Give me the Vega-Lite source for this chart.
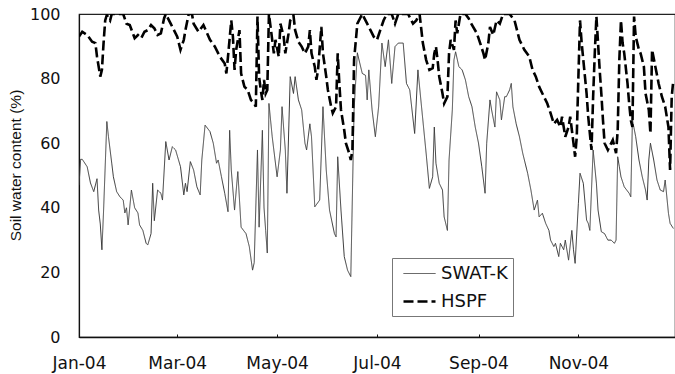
{
  "$schema": "https://vega.github.io/schema/vega-lite/v6.json",
  "autosize": {"type": "none"},
  "padding": {"left": 79, "top": 14, "right": 0, "bottom": 37},
  "width": 596,
  "height": 323,
  "background": "white",
  "config": {
    "font": "DejaVu Sans",
    "view": {"stroke": "#222", "strokeWidth": 1.2}
  },
  "datasets": {
    "soil": [
      {"date":"2004-01-01","model":"SWAT-K","v":47},
      {"date":"2004-01-02","model":"SWAT-K","v":55},
      {"date":"2004-01-03","model":"SWAT-K","v":55},
      {"date":"2004-01-06","model":"SWAT-K","v":52.7},
      {"date":"2004-01-08","model":"SWAT-K","v":47.7},
      {"date":"2004-01-10","model":"SWAT-K","v":45},
      {"date":"2004-01-12","model":"SWAT-K","v":49},
      {"date":"2004-01-13","model":"SWAT-K","v":39.3},
      {"date":"2004-01-14","model":"SWAT-K","v":35},
      {"date":"2004-01-15","model":"SWAT-K","v":27},
      {"date":"2004-01-16","model":"SWAT-K","v":39},
      {"date":"2004-01-18","model":"SWAT-K","v":66.7},
      {"date":"2004-01-19","model":"SWAT-K","v":62},
      {"date":"2004-01-21","model":"SWAT-K","v":53.8},
      {"date":"2004-01-22","model":"SWAT-K","v":49.6},
      {"date":"2004-01-24","model":"SWAT-K","v":45},
      {"date":"2004-01-26","model":"SWAT-K","v":43.4},
      {"date":"2004-01-28","model":"SWAT-K","v":42.4},
      {"date":"2004-01-29","model":"SWAT-K","v":38.4},
      {"date":"2004-01-30","model":"SWAT-K","v":40},
      {"date":"2004-01-31","model":"SWAT-K","v":34.7},
      {"date":"2004-02-02","model":"SWAT-K","v":45.5},
      {"date":"2004-02-04","model":"SWAT-K","v":40},
      {"date":"2004-02-06","model":"SWAT-K","v":38.4},
      {"date":"2004-02-07","model":"SWAT-K","v":34.7},
      {"date":"2004-02-09","model":"SWAT-K","v":33},
      {"date":"2004-02-11","model":"SWAT-K","v":29},
      {"date":"2004-02-12","model":"SWAT-K","v":28.5},
      {"date":"2004-02-14","model":"SWAT-K","v":32},
      {"date":"2004-02-15","model":"SWAT-K","v":47.6},
      {"date":"2004-02-16","model":"SWAT-K","v":36},
      {"date":"2004-02-18","model":"SWAT-K","v":45.5},
      {"date":"2004-02-20","model":"SWAT-K","v":44.5},
      {"date":"2004-02-21","model":"SWAT-K","v":42.4},
      {"date":"2004-02-23","model":"SWAT-K","v":60.5},
      {"date":"2004-02-25","model":"SWAT-K","v":54.8},
      {"date":"2004-02-27","model":"SWAT-K","v":58.9},
      {"date":"2004-02-29","model":"SWAT-K","v":57.9},
      {"date":"2004-03-03","model":"SWAT-K","v":52.7},
      {"date":"2004-03-05","model":"SWAT-K","v":44},
      {"date":"2004-03-06","model":"SWAT-K","v":47.6},
      {"date":"2004-03-07","model":"SWAT-K","v":45},
      {"date":"2004-03-09","model":"SWAT-K","v":54.3},
      {"date":"2004-03-11","model":"SWAT-K","v":51.7},
      {"date":"2004-03-13","model":"SWAT-K","v":46.5},
      {"date":"2004-03-15","model":"SWAT-K","v":44},
      {"date":"2004-03-16","model":"SWAT-K","v":54.8},
      {"date":"2004-03-18","model":"SWAT-K","v":65.6},
      {"date":"2004-03-21","model":"SWAT-K","v":63.6},
      {"date":"2004-03-23","model":"SWAT-K","v":60},
      {"date":"2004-03-25","model":"SWAT-K","v":53.8},
      {"date":"2004-03-26","model":"SWAT-K","v":54.8},
      {"date":"2004-03-28","model":"SWAT-K","v":49.6},
      {"date":"2004-03-30","model":"SWAT-K","v":44.5},
      {"date":"2004-04-01","model":"SWAT-K","v":38.8},
      {"date":"2004-04-02","model":"SWAT-K","v":64},
      {"date":"2004-04-03","model":"SWAT-K","v":51.7},
      {"date":"2004-04-05","model":"SWAT-K","v":39.3},
      {"date":"2004-04-07","model":"SWAT-K","v":51.2},
      {"date":"2004-04-09","model":"SWAT-K","v":34},
      {"date":"2004-04-12","model":"SWAT-K","v":32},
      {"date":"2004-04-14","model":"SWAT-K","v":28},
      {"date":"2004-04-16","model":"SWAT-K","v":20.7},
      {"date":"2004-04-17","model":"SWAT-K","v":23},
      {"date":"2004-04-19","model":"SWAT-K","v":57.9},
      {"date":"2004-04-20","model":"SWAT-K","v":34},
      {"date":"2004-04-22","model":"SWAT-K","v":64},
      {"date":"2004-04-23","model":"SWAT-K","v":40},
      {"date":"2004-04-24","model":"SWAT-K","v":33},
      {"date":"2004-04-25","model":"SWAT-K","v":26},
      {"date":"2004-04-26","model":"SWAT-K","v":72.3},
      {"date":"2004-04-28","model":"SWAT-K","v":62},
      {"date":"2004-05-01","model":"SWAT-K","v":49.6},
      {"date":"2004-05-03","model":"SWAT-K","v":57.9},
      {"date":"2004-05-04","model":"SWAT-K","v":71.3},
      {"date":"2004-05-06","model":"SWAT-K","v":57.9},
      {"date":"2004-05-07","model":"SWAT-K","v":44.5},
      {"date":"2004-05-09","model":"SWAT-K","v":80.6},
      {"date":"2004-05-11","model":"SWAT-K","v":75.4},
      {"date":"2004-05-12","model":"SWAT-K","v":80.6},
      {"date":"2004-05-14","model":"SWAT-K","v":73.4},
      {"date":"2004-05-16","model":"SWAT-K","v":70.3},
      {"date":"2004-05-18","model":"SWAT-K","v":60},
      {"date":"2004-05-19","model":"SWAT-K","v":57.9},
      {"date":"2004-05-21","model":"SWAT-K","v":66},
      {"date":"2004-05-22","model":"SWAT-K","v":62},
      {"date":"2004-05-24","model":"SWAT-K","v":40.3},
      {"date":"2004-05-27","model":"SWAT-K","v":42.4},
      {"date":"2004-05-29","model":"SWAT-K","v":71.3},
      {"date":"2004-05-31","model":"SWAT-K","v":51.7},
      {"date":"2004-06-02","model":"SWAT-K","v":39.3},
      {"date":"2004-06-05","model":"SWAT-K","v":32},
      {"date":"2004-06-06","model":"SWAT-K","v":31},
      {"date":"2004-06-07","model":"SWAT-K","v":55.8},
      {"date":"2004-06-09","model":"SWAT-K","v":39.3},
      {"date":"2004-06-11","model":"SWAT-K","v":24.9},
      {"date":"2004-06-13","model":"SWAT-K","v":20.7},
      {"date":"2004-06-15","model":"SWAT-K","v":18.7},
      {"date":"2004-06-17","model":"SWAT-K","v":70.3},
      {"date":"2004-06-19","model":"SWAT-K","v":88},
      {"date":"2004-06-20","model":"SWAT-K","v":85.8},
      {"date":"2004-06-22","model":"SWAT-K","v":81.6},
      {"date":"2004-06-24","model":"SWAT-K","v":81},
      {"date":"2004-06-25","model":"SWAT-K","v":73.4},
      {"date":"2004-06-26","model":"SWAT-K","v":82.7},
      {"date":"2004-06-28","model":"SWAT-K","v":70.3},
      {"date":"2004-06-30","model":"SWAT-K","v":62},
      {"date":"2004-07-02","model":"SWAT-K","v":71.3},
      {"date":"2004-07-04","model":"SWAT-K","v":91},
      {"date":"2004-07-06","model":"SWAT-K","v":83.7},
      {"date":"2004-07-08","model":"SWAT-K","v":92},
      {"date":"2004-07-10","model":"SWAT-K","v":78.5},
      {"date":"2004-07-12","model":"SWAT-K","v":89.9},
      {"date":"2004-07-14","model":"SWAT-K","v":91},
      {"date":"2004-07-17","model":"SWAT-K","v":91},
      {"date":"2004-07-19","model":"SWAT-K","v":78.5},
      {"date":"2004-07-21","model":"SWAT-K","v":76.5},
      {"date":"2004-07-24","model":"SWAT-K","v":63},
      {"date":"2004-07-26","model":"SWAT-K","v":82.7},
      {"date":"2004-07-28","model":"SWAT-K","v":72.3},
      {"date":"2004-07-31","model":"SWAT-K","v":56.9},
      {"date":"2004-08-02","model":"SWAT-K","v":46},
      {"date":"2004-08-04","model":"SWAT-K","v":49.6},
      {"date":"2004-08-05","model":"SWAT-K","v":65},
      {"date":"2004-08-06","model":"SWAT-K","v":53.8},
      {"date":"2004-08-08","model":"SWAT-K","v":47.6},
      {"date":"2004-08-10","model":"SWAT-K","v":45.5},
      {"date":"2004-08-11","model":"SWAT-K","v":37.2},
      {"date":"2004-08-13","model":"SWAT-K","v":33},
      {"date":"2004-08-14","model":"SWAT-K","v":54.8},
      {"date":"2004-08-16","model":"SWAT-K","v":70.3},
      {"date":"2004-08-17","model":"SWAT-K","v":85.8},
      {"date":"2004-08-18","model":"SWAT-K","v":88.3},
      {"date":"2004-08-20","model":"SWAT-K","v":83.7},
      {"date":"2004-08-22","model":"SWAT-K","v":82.7},
      {"date":"2004-08-24","model":"SWAT-K","v":79.6},
      {"date":"2004-08-26","model":"SWAT-K","v":74.4},
      {"date":"2004-08-28","model":"SWAT-K","v":71.3},
      {"date":"2004-08-30","model":"SWAT-K","v":65},
      {"date":"2004-09-01","model":"SWAT-K","v":60},
      {"date":"2004-09-03","model":"SWAT-K","v":52.7},
      {"date":"2004-09-05","model":"SWAT-K","v":44.5},
      {"date":"2004-09-06","model":"SWAT-K","v":60},
      {"date":"2004-09-08","model":"SWAT-K","v":73.4},
      {"date":"2004-09-09","model":"SWAT-K","v":70.3},
      {"date":"2004-09-11","model":"SWAT-K","v":65},
      {"date":"2004-09-12","model":"SWAT-K","v":75.9},
      {"date":"2004-09-14","model":"SWAT-K","v":73.4},
      {"date":"2004-09-15","model":"SWAT-K","v":67.2},
      {"date":"2004-09-17","model":"SWAT-K","v":74.4},
      {"date":"2004-09-18","model":"SWAT-K","v":74.4},
      {"date":"2004-09-20","model":"SWAT-K","v":76.5},
      {"date":"2004-09-21","model":"SWAT-K","v":78.5},
      {"date":"2004-09-22","model":"SWAT-K","v":71.3},
      {"date":"2004-09-24","model":"SWAT-K","v":66},
      {"date":"2004-09-26","model":"SWAT-K","v":62},
      {"date":"2004-09-28","model":"SWAT-K","v":56.9},
      {"date":"2004-10-01","model":"SWAT-K","v":50.7},
      {"date":"2004-10-03","model":"SWAT-K","v":45.5},
      {"date":"2004-10-05","model":"SWAT-K","v":39.3},
      {"date":"2004-10-07","model":"SWAT-K","v":42.4},
      {"date":"2004-10-08","model":"SWAT-K","v":37.2},
      {"date":"2004-10-10","model":"SWAT-K","v":38.3},
      {"date":"2004-10-12","model":"SWAT-K","v":35.2},
      {"date":"2004-10-14","model":"SWAT-K","v":33},
      {"date":"2004-10-15","model":"SWAT-K","v":30},
      {"date":"2004-10-17","model":"SWAT-K","v":28},
      {"date":"2004-10-18","model":"SWAT-K","v":29},
      {"date":"2004-10-20","model":"SWAT-K","v":24.9},
      {"date":"2004-10-21","model":"SWAT-K","v":29},
      {"date":"2004-10-23","model":"SWAT-K","v":27},
      {"date":"2004-10-24","model":"SWAT-K","v":30},
      {"date":"2004-10-26","model":"SWAT-K","v":23.8},
      {"date":"2004-10-28","model":"SWAT-K","v":33},
      {"date":"2004-10-29","model":"SWAT-K","v":27},
      {"date":"2004-10-30","model":"SWAT-K","v":22.8},
      {"date":"2004-11-01","model":"SWAT-K","v":41.4},
      {"date":"2004-11-02","model":"SWAT-K","v":50.7},
      {"date":"2004-11-04","model":"SWAT-K","v":47.6},
      {"date":"2004-11-06","model":"SWAT-K","v":36.2},
      {"date":"2004-11-07","model":"SWAT-K","v":35.2},
      {"date":"2004-11-08","model":"SWAT-K","v":33},
      {"date":"2004-11-10","model":"SWAT-K","v":57.9},
      {"date":"2004-11-12","model":"SWAT-K","v":47.6},
      {"date":"2004-11-13","model":"SWAT-K","v":39.3},
      {"date":"2004-11-15","model":"SWAT-K","v":32.6},
      {"date":"2004-11-17","model":"SWAT-K","v":32},
      {"date":"2004-11-19","model":"SWAT-K","v":30},
      {"date":"2004-11-21","model":"SWAT-K","v":30},
      {"date":"2004-11-23","model":"SWAT-K","v":29},
      {"date":"2004-11-24","model":"SWAT-K","v":30},
      {"date":"2004-11-25","model":"SWAT-K","v":55.8},
      {"date":"2004-11-26","model":"SWAT-K","v":52.7},
      {"date":"2004-11-27","model":"SWAT-K","v":49.6},
      {"date":"2004-11-29","model":"SWAT-K","v":46.5},
      {"date":"2004-12-02","model":"SWAT-K","v":44.5},
      {"date":"2004-12-03","model":"SWAT-K","v":43.4},
      {"date":"2004-12-04","model":"SWAT-K","v":67.2},
      {"date":"2004-12-06","model":"SWAT-K","v":62},
      {"date":"2004-12-08","model":"SWAT-K","v":54.8},
      {"date":"2004-12-10","model":"SWAT-K","v":49.6},
      {"date":"2004-12-12","model":"SWAT-K","v":45.5},
      {"date":"2004-12-13","model":"SWAT-K","v":42.4},
      {"date":"2004-12-14","model":"SWAT-K","v":54.8},
      {"date":"2004-12-15","model":"SWAT-K","v":60},
      {"date":"2004-12-17","model":"SWAT-K","v":54.8},
      {"date":"2004-12-19","model":"SWAT-K","v":48.6},
      {"date":"2004-12-21","model":"SWAT-K","v":45.5},
      {"date":"2004-12-23","model":"SWAT-K","v":45},
      {"date":"2004-12-24","model":"SWAT-K","v":48.6},
      {"date":"2004-12-26","model":"SWAT-K","v":38.3},
      {"date":"2004-12-27","model":"SWAT-K","v":35.2},
      {"date":"2004-12-29","model":"SWAT-K","v":33.6},
      {"date":"2004-01-01","model":"HSPF","v":93},
      {"date":"2004-01-03","model":"HSPF","v":94.5},
      {"date":"2004-01-06","model":"HSPF","v":93.5},
      {"date":"2004-01-09","model":"HSPF","v":91.4},
      {"date":"2004-01-11","model":"HSPF","v":91},
      {"date":"2004-01-12","model":"HSPF","v":86.8},
      {"date":"2004-01-14","model":"HSPF","v":80.6},
      {"date":"2004-01-15","model":"HSPF","v":82.7},
      {"date":"2004-01-16","model":"HSPF","v":91},
      {"date":"2004-01-17","model":"HSPF","v":98},
      {"date":"2004-01-18","model":"HSPF","v":99.7},
      {"date":"2004-01-20","model":"HSPF","v":98},
      {"date":"2004-01-21","model":"HSPF","v":100},
      {"date":"2004-01-25","model":"HSPF","v":100},
      {"date":"2004-01-28","model":"HSPF","v":100},
      {"date":"2004-01-30","model":"HSPF","v":97},
      {"date":"2004-02-01","model":"HSPF","v":96.6},
      {"date":"2004-02-04","model":"HSPF","v":92.5},
      {"date":"2004-02-06","model":"HSPF","v":93.5},
      {"date":"2004-02-08","model":"HSPF","v":92.5},
      {"date":"2004-02-10","model":"HSPF","v":94.5},
      {"date":"2004-02-12","model":"HSPF","v":95},
      {"date":"2004-02-14","model":"HSPF","v":96.6},
      {"date":"2004-02-16","model":"HSPF","v":95.6},
      {"date":"2004-02-18","model":"HSPF","v":93.5},
      {"date":"2004-02-20","model":"HSPF","v":94},
      {"date":"2004-02-22","model":"HSPF","v":98.7},
      {"date":"2004-02-23","model":"HSPF","v":100},
      {"date":"2004-02-26","model":"HSPF","v":97},
      {"date":"2004-02-28","model":"HSPF","v":95},
      {"date":"2004-03-01","model":"HSPF","v":93},
      {"date":"2004-03-03","model":"HSPF","v":88.9},
      {"date":"2004-03-05","model":"HSPF","v":92},
      {"date":"2004-03-06","model":"HSPF","v":95},
      {"date":"2004-03-08","model":"HSPF","v":100},
      {"date":"2004-03-10","model":"HSPF","v":100},
      {"date":"2004-03-11","model":"HSPF","v":97},
      {"date":"2004-03-14","model":"HSPF","v":94.5},
      {"date":"2004-03-17","model":"HSPF","v":96.6},
      {"date":"2004-03-21","model":"HSPF","v":92},
      {"date":"2004-03-24","model":"HSPF","v":89.9},
      {"date":"2004-03-27","model":"HSPF","v":86.8},
      {"date":"2004-03-30","model":"HSPF","v":84.7},
      {"date":"2004-03-31","model":"HSPF","v":81.6},
      {"date":"2004-04-01","model":"HSPF","v":86.8},
      {"date":"2004-04-03","model":"HSPF","v":98},
      {"date":"2004-04-04","model":"HSPF","v":93},
      {"date":"2004-04-05","model":"HSPF","v":82.7},
      {"date":"2004-04-06","model":"HSPF","v":88.9},
      {"date":"2004-04-08","model":"HSPF","v":95},
      {"date":"2004-04-09","model":"HSPF","v":81.6},
      {"date":"2004-04-11","model":"HSPF","v":77.5},
      {"date":"2004-04-13","model":"HSPF","v":76.5},
      {"date":"2004-04-15","model":"HSPF","v":73.4},
      {"date":"2004-04-17","model":"HSPF","v":72.3},
      {"date":"2004-04-18","model":"HSPF","v":71.3},
      {"date":"2004-04-19","model":"HSPF","v":99.2},
      {"date":"2004-04-20","model":"HSPF","v":80.6},
      {"date":"2004-04-21","model":"HSPF","v":76.5},
      {"date":"2004-04-22","model":"HSPF","v":73.4},
      {"date":"2004-04-23","model":"HSPF","v":79.6},
      {"date":"2004-04-24","model":"HSPF","v":75.4},
      {"date":"2004-04-25","model":"HSPF","v":76.5},
      {"date":"2004-04-26","model":"HSPF","v":100},
      {"date":"2004-04-28","model":"HSPF","v":92},
      {"date":"2004-04-29","model":"HSPF","v":87.8},
      {"date":"2004-04-30","model":"HSPF","v":92},
      {"date":"2004-05-02","model":"HSPF","v":86.8},
      {"date":"2004-05-03","model":"HSPF","v":97},
      {"date":"2004-05-05","model":"HSPF","v":93},
      {"date":"2004-05-06","model":"HSPF","v":87.8},
      {"date":"2004-05-08","model":"HSPF","v":94},
      {"date":"2004-05-09","model":"HSPF","v":98},
      {"date":"2004-05-11","model":"HSPF","v":99.5},
      {"date":"2004-05-12","model":"HSPF","v":95},
      {"date":"2004-05-14","model":"HSPF","v":91.4},
      {"date":"2004-05-16","model":"HSPF","v":89.9},
      {"date":"2004-05-18","model":"HSPF","v":87.8},
      {"date":"2004-05-20","model":"HSPF","v":89.9},
      {"date":"2004-05-21","model":"HSPF","v":95},
      {"date":"2004-05-22","model":"HSPF","v":87.8},
      {"date":"2004-05-24","model":"HSPF","v":83.7},
      {"date":"2004-05-25","model":"HSPF","v":79.6},
      {"date":"2004-05-26","model":"HSPF","v":82.7},
      {"date":"2004-05-28","model":"HSPF","v":96},
      {"date":"2004-05-29","model":"HSPF","v":87.8},
      {"date":"2004-05-31","model":"HSPF","v":80.6},
      {"date":"2004-06-01","model":"HSPF","v":76.5},
      {"date":"2004-06-03","model":"HSPF","v":71.3},
      {"date":"2004-06-04","model":"HSPF","v":69.3},
      {"date":"2004-06-06","model":"HSPF","v":71.3},
      {"date":"2004-06-07","model":"HSPF","v":87.8},
      {"date":"2004-06-08","model":"HSPF","v":78.5},
      {"date":"2004-06-09","model":"HSPF","v":70.3},
      {"date":"2004-06-11","model":"HSPF","v":64},
      {"date":"2004-06-12","model":"HSPF","v":60},
      {"date":"2004-06-14","model":"HSPF","v":56.9},
      {"date":"2004-06-15","model":"HSPF","v":54.8},
      {"date":"2004-06-16","model":"HSPF","v":57.9},
      {"date":"2004-06-17","model":"HSPF","v":85.8},
      {"date":"2004-06-19","model":"HSPF","v":97},
      {"date":"2004-06-22","model":"HSPF","v":100},
      {"date":"2004-06-25","model":"HSPF","v":97},
      {"date":"2004-06-27","model":"HSPF","v":95},
      {"date":"2004-06-29","model":"HSPF","v":93},
      {"date":"2004-07-01","model":"HSPF","v":92},
      {"date":"2004-07-03","model":"HSPF","v":95},
      {"date":"2004-07-05","model":"HSPF","v":98},
      {"date":"2004-07-07","model":"HSPF","v":100},
      {"date":"2004-07-10","model":"HSPF","v":100},
      {"date":"2004-07-12","model":"HSPF","v":97},
      {"date":"2004-07-14","model":"HSPF","v":100},
      {"date":"2004-07-17","model":"HSPF","v":100},
      {"date":"2004-07-20","model":"HSPF","v":100},
      {"date":"2004-07-23","model":"HSPF","v":97},
      {"date":"2004-07-25","model":"HSPF","v":98},
      {"date":"2004-07-27","model":"HSPF","v":100},
      {"date":"2004-07-29","model":"HSPF","v":91},
      {"date":"2004-07-31","model":"HSPF","v":85.8},
      {"date":"2004-08-02","model":"HSPF","v":82.7},
      {"date":"2004-08-04","model":"HSPF","v":83.2},
      {"date":"2004-08-05","model":"HSPF","v":87.8},
      {"date":"2004-08-06","model":"HSPF","v":89.9},
      {"date":"2004-08-07","model":"HSPF","v":85.8},
      {"date":"2004-08-08","model":"HSPF","v":80.6},
      {"date":"2004-08-10","model":"HSPF","v":75.4},
      {"date":"2004-08-11","model":"HSPF","v":72.3},
      {"date":"2004-08-13","model":"HSPF","v":74.4},
      {"date":"2004-08-14","model":"HSPF","v":87.8},
      {"date":"2004-08-15","model":"HSPF","v":92},
      {"date":"2004-08-17","model":"HSPF","v":88.9},
      {"date":"2004-08-18","model":"HSPF","v":98},
      {"date":"2004-08-19","model":"HSPF","v":94},
      {"date":"2004-08-21","model":"HSPF","v":100},
      {"date":"2004-08-24","model":"HSPF","v":100},
      {"date":"2004-08-26","model":"HSPF","v":98.6},
      {"date":"2004-08-28","model":"HSPF","v":96.6},
      {"date":"2004-08-31","model":"HSPF","v":94},
      {"date":"2004-09-02","model":"HSPF","v":91},
      {"date":"2004-09-04","model":"HSPF","v":87.8},
      {"date":"2004-09-05","model":"HSPF","v":85.8},
      {"date":"2004-09-07","model":"HSPF","v":91},
      {"date":"2004-09-08","model":"HSPF","v":96},
      {"date":"2004-09-10","model":"HSPF","v":93.5},
      {"date":"2004-09-12","model":"HSPF","v":98},
      {"date":"2004-09-14","model":"HSPF","v":97},
      {"date":"2004-09-16","model":"HSPF","v":100},
      {"date":"2004-09-20","model":"HSPF","v":100},
      {"date":"2004-09-23","model":"HSPF","v":98},
      {"date":"2004-09-26","model":"HSPF","v":92},
      {"date":"2004-09-29","model":"HSPF","v":88.9},
      {"date":"2004-10-02","model":"HSPF","v":86.8},
      {"date":"2004-10-04","model":"HSPF","v":82.7},
      {"date":"2004-10-06","model":"HSPF","v":80.6},
      {"date":"2004-10-08","model":"HSPF","v":77.5},
      {"date":"2004-10-10","model":"HSPF","v":75.4},
      {"date":"2004-10-13","model":"HSPF","v":72.3},
      {"date":"2004-10-15","model":"HSPF","v":69.3},
      {"date":"2004-10-17","model":"HSPF","v":66},
      {"date":"2004-10-19","model":"HSPF","v":67.2},
      {"date":"2004-10-21","model":"HSPF","v":65},
      {"date":"2004-10-22","model":"HSPF","v":68.2},
      {"date":"2004-10-24","model":"HSPF","v":62},
      {"date":"2004-10-26","model":"HSPF","v":65},
      {"date":"2004-10-27","model":"HSPF","v":68.2},
      {"date":"2004-10-29","model":"HSPF","v":60},
      {"date":"2004-10-30","model":"HSPF","v":55.8},
      {"date":"2004-10-31","model":"HSPF","v":62},
      {"date":"2004-11-01","model":"HSPF","v":80.6},
      {"date":"2004-11-02","model":"HSPF","v":98},
      {"date":"2004-11-03","model":"HSPF","v":91},
      {"date":"2004-11-05","model":"HSPF","v":80.6},
      {"date":"2004-11-06","model":"HSPF","v":75.4},
      {"date":"2004-11-07","model":"HSPF","v":68.2},
      {"date":"2004-11-09","model":"HSPF","v":57.9},
      {"date":"2004-11-10","model":"HSPF","v":74.4},
      {"date":"2004-11-11","model":"HSPF","v":87.8},
      {"date":"2004-11-12","model":"HSPF","v":99.2},
      {"date":"2004-11-13","model":"HSPF","v":91},
      {"date":"2004-11-14","model":"HSPF","v":82.7},
      {"date":"2004-11-15","model":"HSPF","v":75.4},
      {"date":"2004-11-16","model":"HSPF","v":67.2},
      {"date":"2004-11-17","model":"HSPF","v":60},
      {"date":"2004-11-19","model":"HSPF","v":57.9},
      {"date":"2004-11-21","model":"HSPF","v":60},
      {"date":"2004-11-22","model":"HSPF","v":61},
      {"date":"2004-11-24","model":"HSPF","v":56.9},
      {"date":"2004-11-25","model":"HSPF","v":64},
      {"date":"2004-11-26","model":"HSPF","v":85.8},
      {"date":"2004-11-27","model":"HSPF","v":98},
      {"date":"2004-11-28","model":"HSPF","v":91},
      {"date":"2004-11-29","model":"HSPF","v":87.8},
      {"date":"2004-12-01","model":"HSPF","v":78.5},
      {"date":"2004-12-02","model":"HSPF","v":72.3},
      {"date":"2004-12-03","model":"HSPF","v":67.2},
      {"date":"2004-12-04","model":"HSPF","v":65},
      {"date":"2004-12-05","model":"HSPF","v":99.2},
      {"date":"2004-12-06","model":"HSPF","v":93},
      {"date":"2004-12-08","model":"HSPF","v":88.9},
      {"date":"2004-12-09","model":"HSPF","v":87.8},
      {"date":"2004-12-11","model":"HSPF","v":83.7},
      {"date":"2004-12-12","model":"HSPF","v":75.4},
      {"date":"2004-12-14","model":"HSPF","v":70.3},
      {"date":"2004-12-15","model":"HSPF","v":63},
      {"date":"2004-12-16","model":"HSPF","v":88.9},
      {"date":"2004-12-18","model":"HSPF","v":83.7},
      {"date":"2004-12-20","model":"HSPF","v":78.5},
      {"date":"2004-12-22","model":"HSPF","v":74.4},
      {"date":"2004-12-24","model":"HSPF","v":71.3},
      {"date":"2004-12-26","model":"HSPF","v":65},
      {"date":"2004-12-27","model":"HSPF","v":51.7},
      {"date":"2004-12-28","model":"HSPF","v":74.4},
      {"date":"2004-12-29","model":"HSPF","v":79.6}
    ]
  },
  "data": {"name": "soil"},
  "mark": {"type": "line", "clip": true, "strokeCap": "butt"},
  "encoding": {
    "x": {
      "field": "date",
      "type": "temporal",
      "scale": {"type": "utc", "domain": [{"year": 2004, "month": 1, "date": 1, "utc": true}, {"year": 2004, "month": 12, "date": 30, "utc": true}]},
      "axis": {
        "title": null,
        "format": "%b-%y",
        "values": [
          {"year": 2004, "month": 1, "date": 1, "utc": true},
          {"year": 2004, "month": 3, "date": 1, "utc": true},
          {"year": 2004, "month": 5, "date": 1, "utc": true},
          {"year": 2004, "month": 7, "date": 1, "utc": true},
          {"year": 2004, "month": 9, "date": 1, "utc": true},
          {"year": 2004, "month": 11, "date": 1, "utc": true}
        ],
        "grid": false,
        "domainColor": "#111",
        "domainWidth": 1.5,
        "tickColor": "#111",
        "tickSize": -3,
        "labelPadding": 21,
        "labelFont": "DejaVu Sans",
        "labelFontSize": 17,
        "labelColor": "#111",
        "labelFlush": false,
        "labelOverlap": false
      }
    },
    "y": {
      "field": "v",
      "type": "quantitative",
      "scale": {"domain": [0, 100], "nice": false},
      "axis": {
        "title": "Soil water content (%)",
        "values": [0, 20, 40, 60, 80, 100],
        "grid": false,
        "ticks": false,
        "domainColor": "#111",
        "domainWidth": 1.2,
        "labelPadding": 19,
        "labelFont": "DejaVu Sans",
        "labelFontSize": 16,
        "labelColor": "#111",
        "titleFont": "Liberation Sans",
        "titleFontSize": 15.5,
        "titleFontWeight": "normal",
        "titleColor": "#111",
        "titleX": -64,
        "titleY": 151,
        "titleAlign": "center",
        "titleBaseline": "middle",
        "titleAngle": -90
      }
    },
    "color": {
      "field": "model",
      "type": "nominal",
      "scale": {"domain": ["SWAT-K", "HSPF"], "range": ["#3a3a3a", "#000000"]},
      "legend": {
        "title": null,
        "orient": "none",
        "legendX": 313,
        "legendY": 244,
        "symbolType": "M-1.6,0H1.6",
        "symbolSize": 400,
        "symbolOffset": 11,
        "symbolStrokeWidth": 1.8,
        "labelFont": "DejaVu Sans",
        "labelFontSize": 18,
        "labelColor": "#111",
        "labelOffset": 10,
        "padding": 5,
        "rowPadding": 7,
        "strokeColor": "#777",
        "fillColor": "white"
      }
    },
    "strokeDash": {
      "field": "model",
      "type": "nominal",
      "scale": {"domain": ["SWAT-K", "HSPF"], "range": [[1, 0], [10, 4]]},
      "legend": {
        "title": null,
        "orient": "none",
        "legendX": 313,
        "legendY": 244,
        "symbolType": "M-1.6,0H1.6",
        "symbolSize": 400,
        "symbolOffset": 11,
        "symbolStrokeWidth": 1.8,
        "labelFont": "DejaVu Sans",
        "labelFontSize": 18,
        "labelColor": "#111",
        "labelOffset": 10,
        "padding": 5,
        "rowPadding": 7,
        "strokeColor": "#777",
        "fillColor": "white"
      }
    },
    "strokeWidth": {
      "field": "model",
      "type": "nominal",
      "scale": {"domain": ["SWAT-K", "HSPF"], "range": [1, 2.6]},
      "legend": null
    }
  }
}
